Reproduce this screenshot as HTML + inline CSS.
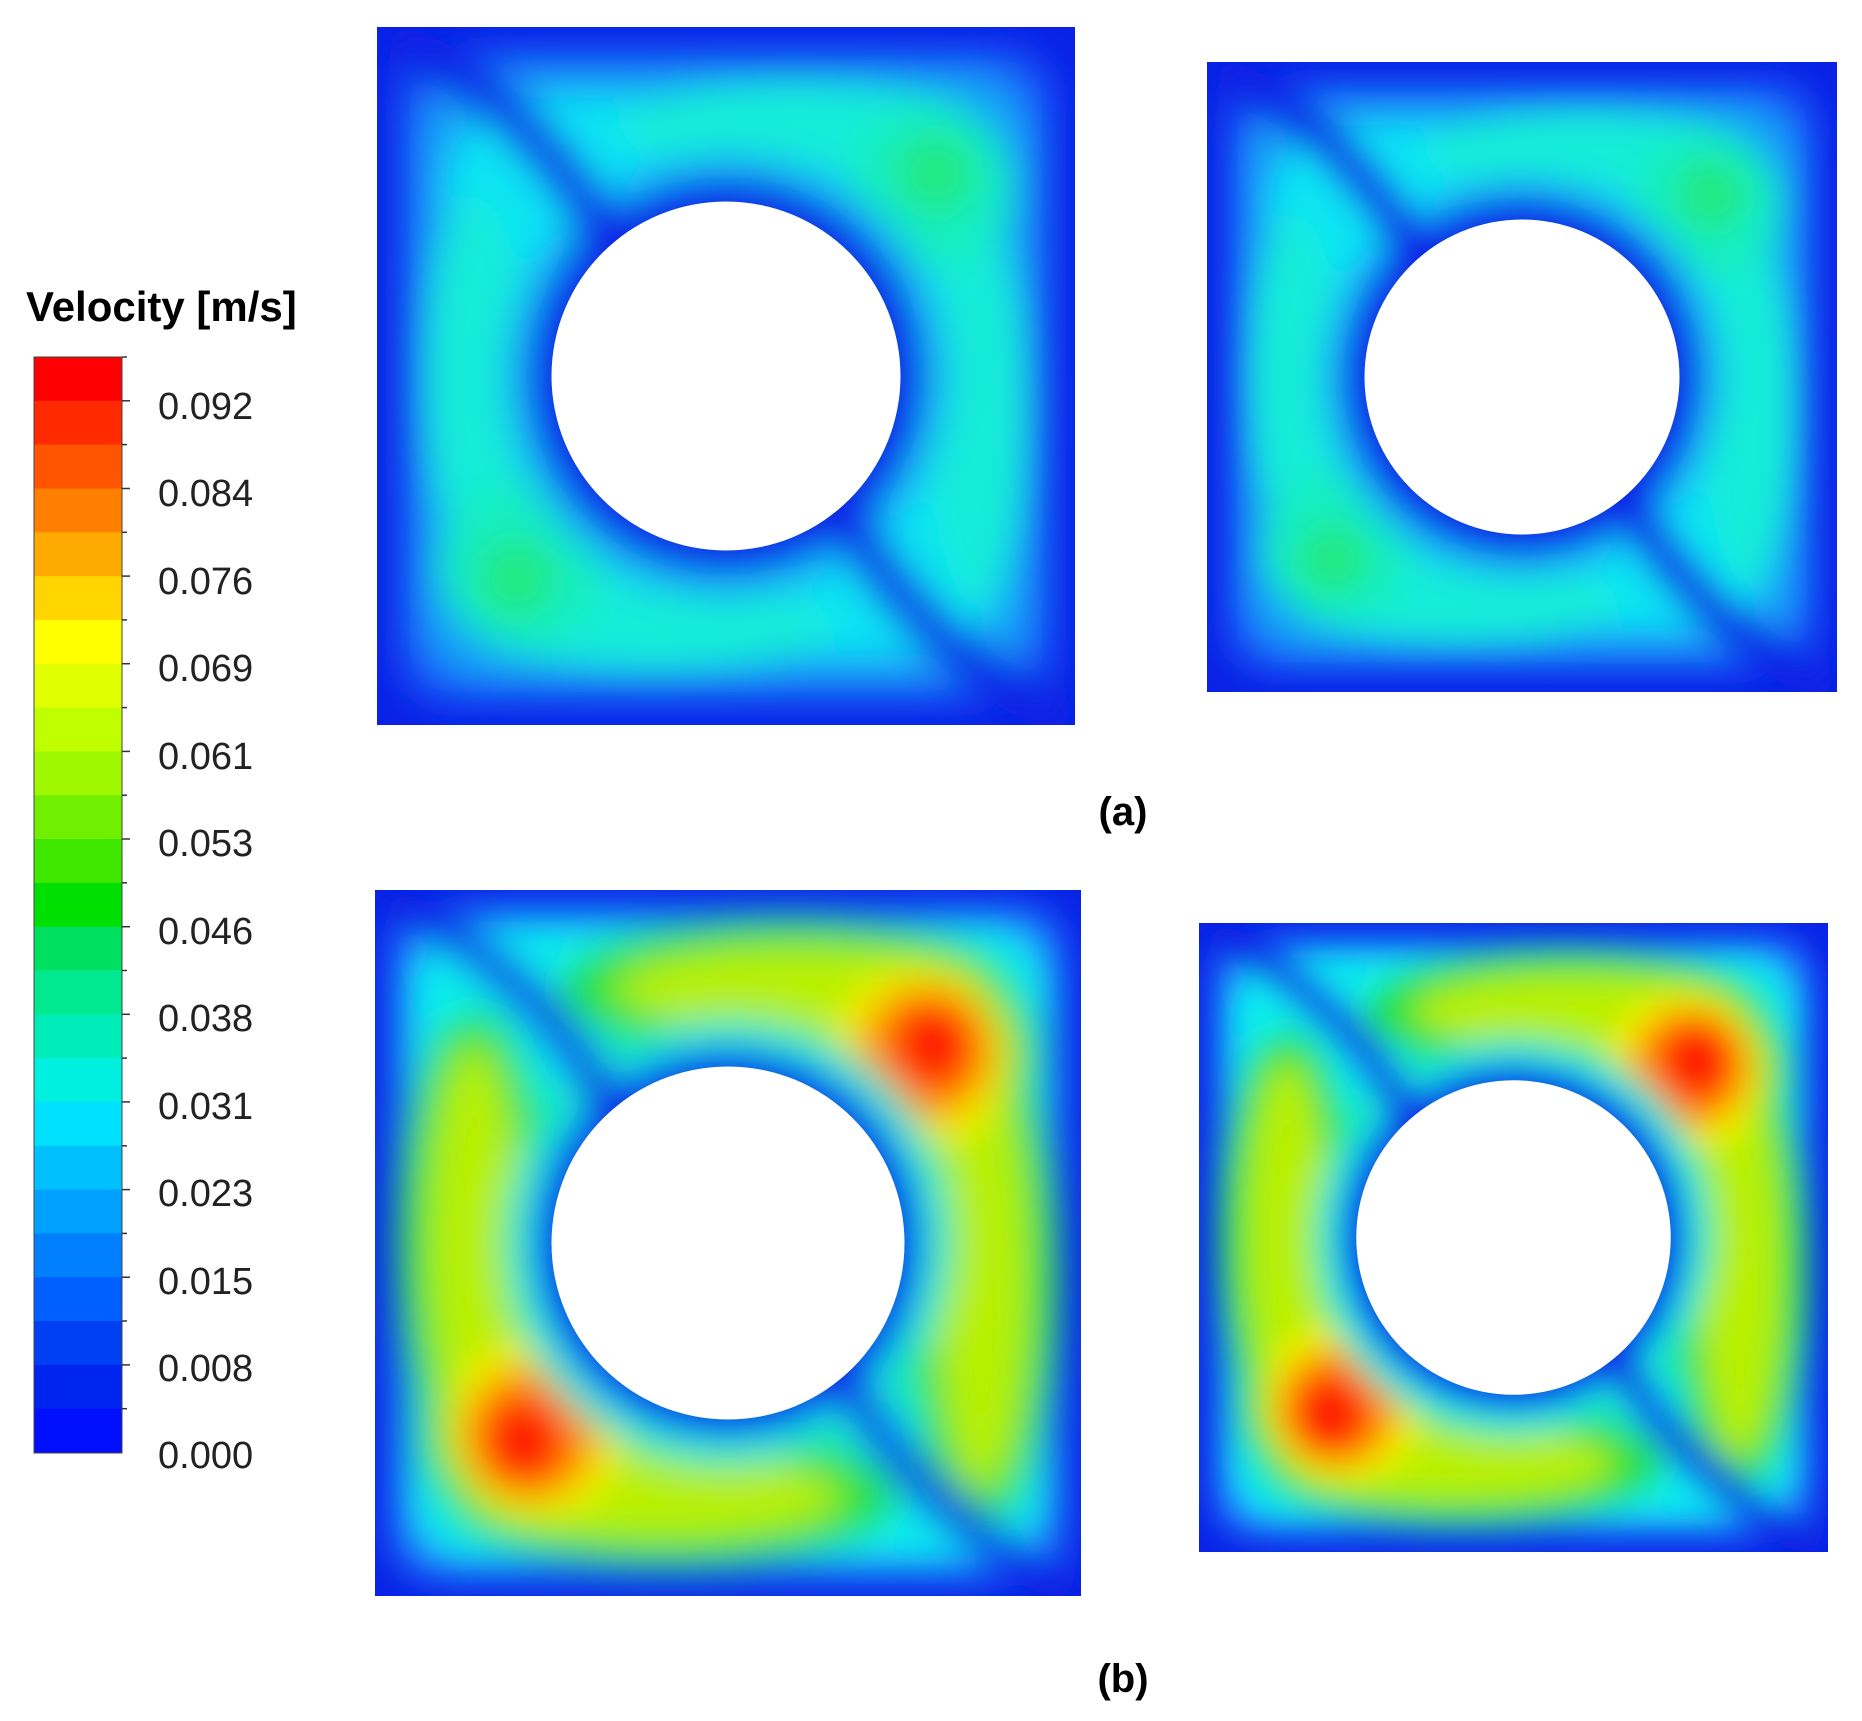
<!DOCTYPE html>
<html><head><meta charset="utf-8"><style>
html,body{margin:0;padding:0;background:#fff;}
svg{display:block;}
text{font-family:"Liberation Sans",Arial,sans-serif;}
</style></head><body>
<svg width="1862" height="1721" viewBox="0 0 1862 1721" xmlns="http://www.w3.org/2000/svg">
<defs>
<filter id="bl" x="-10%" y="-10%" width="120%" height="120%"><feGaussianBlur stdDeviation="2.6"/></filter>
<clipPath id="cp"><rect x="0" y="0" width="100" height="100"/></clipPath>
<g id="pa">
 <rect x="0" y="0" width="100" height="100" fill="#0a22e6"/>
 <g clip-path="url(#cp)"><g filter="url(#bl)">
  <rect x="3" y="3" width="94" height="94" rx="7" fill="#1858f8"/>
  <rect x="6" y="6" width="88" height="88" rx="10" fill="#18a0f8"/>
  <rect x="10" y="10" width="80" height="80" rx="13" fill="#10e4f4"/>
  <ellipse cx="14" cy="50" rx="7" ry="26" fill="#18ecd8"/>
  <ellipse cx="86" cy="55" rx="7" ry="28" fill="#18ecd8"/>
  <ellipse cx="60" cy="14" rx="26" ry="6" fill="#18ecd8"/>
  <ellipse cx="40" cy="86" rx="26" ry="6" fill="#18ecd8"/>
  <ellipse cx="79" cy="23" rx="12" ry="12" fill="#18eec0"/>
  <ellipse cx="21" cy="77" rx="12" ry="12" fill="#18eec0"/>
  <ellipse cx="80" cy="21" rx="5.5" ry="5.5" fill="#20e880"/>
  <ellipse cx="20" cy="79" rx="5.5" ry="5.5" fill="#20e880"/>
  <circle cx="50" cy="50" r="32" fill="#18b8f8"/>
  <circle cx="50" cy="50" r="28.5" fill="#0a22e6"/>
  <path d="M2,2 Q22,10 34,32" stroke="#0a22e6" stroke-width="6" fill="none"/>
  <path d="M66,68 Q78,90 99,99" stroke="#0a22e6" stroke-width="6" fill="none"/>
 </g></g>
 <circle cx="50" cy="50" r="25" fill="#fff"/>
</g>
<g id="pb">
 <rect x="0" y="0" width="100" height="100" fill="#0a22e6"/>
 <g clip-path="url(#cp)"><g filter="url(#bl)">
  <rect x="2.5" y="2.5" width="95" height="95" rx="6" fill="#1a80ff"/>
  <rect x="5" y="5" width="90" height="90" rx="9" fill="#10eef0"/>
  <ellipse cx="14" cy="50" rx="11" ry="33" fill="#20e040"/>
  <ellipse cx="86" cy="55" rx="11" ry="35" fill="#20e040"/>
  <ellipse cx="58" cy="14" rx="32" ry="10" fill="#20e040"/>
  <ellipse cx="42" cy="86" rx="32" ry="10" fill="#20e040"/>
  <ellipse cx="77" cy="24" rx="17" ry="16" fill="#20e040"/>
  <ellipse cx="23" cy="76" rx="17" ry="16" fill="#20e040"/>
  <ellipse cx="14" cy="50" rx="6.5" ry="28" fill="#b8f000"/>
  <ellipse cx="86" cy="55" rx="6.5" ry="30" fill="#b8f000"/>
  <ellipse cx="60" cy="14" rx="26" ry="6" fill="#b8f000"/>
  <ellipse cx="40" cy="86" rx="26" ry="6" fill="#b8f000"/>
  <ellipse cx="77" cy="24" rx="13" ry="13" fill="#f0f000"/>
  <ellipse cx="23" cy="76" rx="13" ry="13" fill="#f0f000"/>
  <ellipse cx="78" cy="23" rx="9.5" ry="9.5" fill="#ff9000"/>
  <ellipse cx="22" cy="77" rx="9.5" ry="9.5" fill="#ff9000"/>
  <ellipse cx="79" cy="22" rx="6" ry="6.5" fill="#ff1a00"/>
  <ellipse cx="21" cy="78" rx="6" ry="6.5" fill="#ff1a00"/>
  <circle cx="50" cy="50" r="32" fill="#20e8a0"/>
  <circle cx="50" cy="50" r="30" fill="#10eef0"/>
  <circle cx="50" cy="50" r="27.5" fill="#0a22e6"/>
  <path d="M2,2 Q22,10 34,32" stroke="#0a22e6" stroke-width="5" fill="none"/>
  <path d="M66,68 Q78,90 99,99" stroke="#0a22e6" stroke-width="5" fill="none"/>
 </g></g>
 <circle cx="50" cy="50" r="25" fill="#fff"/>
</g>
</defs>

<use href="#pa" transform="translate(377,27) scale(6.98)"/>
<use href="#pa" transform="translate(1207,62) scale(6.3)"/>
<use href="#pb" transform="translate(375,890) scale(7.06)"/>
<use href="#pb" transform="translate(1199,923) scale(6.29)"/>

<text x="1123" y="825" font-size="40" font-weight="bold" text-anchor="middle">(a)</text>
<text x="1123" y="1692" font-size="40" font-weight="bold" text-anchor="middle">(b)</text>

<text x="26" y="321" font-size="42" font-weight="bold">Velocity [m/s]</text>

<g>
<rect x="34" y="357.0" width="88" height="44.4" fill="#ff0000"/>
<rect x="34" y="400.8" width="88" height="44.4" fill="#ff2a00"/>
<rect x="34" y="444.6" width="88" height="44.4" fill="#ff5500"/>
<rect x="34" y="488.5" width="88" height="44.4" fill="#ff8000"/>
<rect x="34" y="532.3" width="88" height="44.4" fill="#ffaa00"/>
<rect x="34" y="576.1" width="88" height="44.4" fill="#ffd500"/>
<rect x="34" y="619.9" width="88" height="44.4" fill="#ffff00"/>
<rect x="34" y="663.7" width="88" height="44.4" fill="#e0ff00"/>
<rect x="34" y="707.6" width="88" height="44.4" fill="#c0ff00"/>
<rect x="34" y="751.4" width="88" height="44.4" fill="#a0f800"/>
<rect x="34" y="795.2" width="88" height="44.4" fill="#70f000"/>
<rect x="34" y="839.0" width="88" height="44.4" fill="#40e800"/>
<rect x="34" y="882.8" width="88" height="44.4" fill="#00e000"/>
<rect x="34" y="926.7" width="88" height="44.4" fill="#00e060"/>
<rect x="34" y="970.5" width="88" height="44.4" fill="#00e890"/>
<rect x="34" y="1014.3" width="88" height="44.4" fill="#00ecb8"/>
<rect x="34" y="1058.1" width="88" height="44.4" fill="#00f0e0"/>
<rect x="34" y="1101.9" width="88" height="44.4" fill="#00e0ff"/>
<rect x="34" y="1145.8" width="88" height="44.4" fill="#00c0ff"/>
<rect x="34" y="1189.6" width="88" height="44.4" fill="#00a0ff"/>
<rect x="34" y="1233.4" width="88" height="44.4" fill="#0080ff"/>
<rect x="34" y="1277.2" width="88" height="44.4" fill="#0060ff"/>
<rect x="34" y="1321.0" width="88" height="44.4" fill="#0040f4"/>
<rect x="34" y="1364.9" width="88" height="44.4" fill="#0024f0"/>
<rect x="34" y="1408.7" width="88" height="44.3" fill="#0010ff"/>
<rect x="34" y="357" width="88" height="1096" fill="none" stroke="#444" stroke-width="1"/>
</g>
<g stroke="#333" stroke-width="1.5">
<line x1="122" y1="400.8" x2="130" y2="400.8"/><line x1="122" y1="444.6" x2="127" y2="444.6"/>
<line x1="122" y1="488.5" x2="130" y2="488.5"/><line x1="122" y1="532.3" x2="127" y2="532.3"/>
<line x1="122" y1="576.1" x2="130" y2="576.1"/><line x1="122" y1="619.9" x2="127" y2="619.9"/>
<line x1="122" y1="663.7" x2="130" y2="663.7"/><line x1="122" y1="707.6" x2="127" y2="707.6"/>
<line x1="122" y1="751.4" x2="130" y2="751.4"/><line x1="122" y1="795.2" x2="127" y2="795.2"/>
<line x1="122" y1="839.0" x2="130" y2="839.0"/><line x1="122" y1="882.8" x2="127" y2="882.8"/>
<line x1="122" y1="926.7" x2="130" y2="926.7"/><line x1="122" y1="970.5" x2="127" y2="970.5"/>
<line x1="122" y1="1014.3" x2="130" y2="1014.3"/><line x1="122" y1="1058.1" x2="127" y2="1058.1"/>
<line x1="122" y1="1101.9" x2="130" y2="1101.9"/><line x1="122" y1="1145.8" x2="127" y2="1145.8"/>
<line x1="122" y1="1189.6" x2="130" y2="1189.6"/><line x1="122" y1="1233.4" x2="127" y2="1233.4"/>
<line x1="122" y1="1277.2" x2="130" y2="1277.2"/><line x1="122" y1="1321.0" x2="127" y2="1321.0"/>
<line x1="122" y1="1364.9" x2="130" y2="1364.9"/><line x1="122" y1="1408.7" x2="127" y2="1408.7"/>
<line x1="122" y1="357" x2="127" y2="357"/>
</g>
<g font-size="38" fill="#222">
<text x="158" y="419">0.092</text>
<text x="158" y="506">0.084</text>
<text x="158" y="594">0.076</text>
<text x="158" y="681">0.069</text>
<text x="158" y="769">0.061</text>
<text x="158" y="856">0.053</text>
<text x="158" y="944">0.046</text>
<text x="158" y="1031">0.038</text>
<text x="158" y="1119">0.031</text>
<text x="158" y="1206">0.023</text>
<text x="158" y="1294">0.015</text>
<text x="158" y="1381">0.008</text>
<text x="158" y="1468">0.000</text>
</g>
</svg>
</body></html>
